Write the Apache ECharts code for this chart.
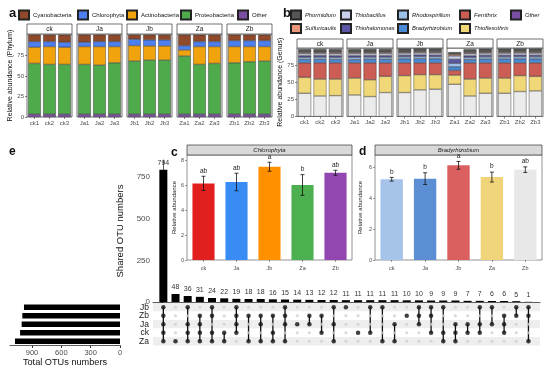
<!DOCTYPE html>
<html><head><meta charset="utf-8">
<script src="https://cdn.jsdelivr.net/npm/echarts@6/dist/echarts.min.js"></script>
<style>html,body{margin:0;padding:0;background:#fff}#c{width:550px;height:371px}</style>
</head><body><div id="c"></div>
<script>
const FONT = '"Liberation Sans", Arial, Helvetica, sans-serif';
// ---------- shared categories ----------
const facetNames = ['ck','Ja','Jb','Za','Zb'];
const sampleNames = ['ck1','ck2','ck3','Ja1','Ja2','Ja3','Jb1','Jb2','Jb3','Za1','Za2','Za3','Zb1','Zb2','Zb3'];
// ---------- panel a : phylum (%) ----------
const phylumNames = ['Cyanobacteria','Chlorophyta','Actinobacteria','Proteobacteria','Other'];
const cyanobacteria  = [8.2,8.2,9.0, 9.0,8.2,8.2, 5.3,6.1,6.1, 13.1,8.2,8.2, 7.0,7.0,7.0];
const chlorophyta    = [6.8,6.1,6.1, 5.3,6.1,6.1, 7.8,7.4,7.4, 5.3,6.1,6.1, 7.3,7.3,7.3];
const actinobacteria = [19.8,21.7,20.9, 21.7,22.5,19.7, 18.8,17.2,17.2, 7.4,21.7,20.5, 19.7,18.4,17.6];
const proteobacteria = [61.7,60.5,60.5, 60.5,59.7,62.5, 64.6,65.8,65.8, 70.7,60.5,61.7, 62.5,63.8,64.6];
const phylumOther    = [3.5,3.5,3.5, 3.5,3.5,3.5, 3.5,3.5,3.5, 3.5,3.5,3.5, 3.5,3.5,3.5];
const phylumTicks = [0,25,50,75];
// ---------- panel b : genus (%) ----------
const genusNames = ['Phormidium','Sulfuricaulis','Thiobacillus','Thiohalomonas','Rhodospirillum','Bradyrhizobium','Ferrithrix','Thioflexothrix','Other'];
const phormidium     = [5.0,4.8,5.1, 5.0,4.9,5.0, 5.1,4.9,5.0, 3.5,5.0,4.9, 5.0,4.9,5.0];
const sulfuricaulis  = [1.5,1.5,1.6, 1.5,1.5,1.5, 1.4,1.5,1.5, 2.0,1.5,1.5, 1.5,1.5,1.5];
const thiobacillus   = [3.0,3.0,2.9, 3.0,3.0,3.1, 3.0,3.0,2.9, 5.0,3.0,3.0, 3.0,3.0,3.0];
const thiohalomonas  = [2.5,2.6,2.5, 2.5,2.5,2.4, 2.5,2.5,2.5, 6.0,2.5,2.5, 2.5,2.5,2.5];
const rhodospirillum = [3.0,3.1,3.0, 3.2,3.0,3.1, 2.9,3.0,3.0, 5.0,3.0,3.1, 3.0,3.1,3.0];
const bradyrhizobium = [5.2,5.3,5.1, 5.0,5.5,5.3, 6.0,6.3,6.1, 5.4,5.0,5.7, 5.8,6.0,5.9];
const ferrithrix     = [21.4,23.9,23.9, 22.4,24.9,19.9, 18.9,17.4,17.4, 7.0,23.9,22.4, 22.4,18.9,19.9];
const thioflexothrix = [23.4,24.9,24.4, 24.9,24.8,23.9, 24.9,22.4,21.4, 13.5,24.9,22.4, 22.4,23.4,21.4];
const genusOther     = [34.3,30.3,30.8, 31.8,29.4,35.3, 35.3,39.3,40.3, 47.5,30.3,34.3, 34.3,36.8,37.8];
const genusTicks = [0,25,50,75];
// ---------- panel c : Chlorophyta ----------
const chloroMean = [6.13,6.24,7.46,6.00,6.98];
const chloroSd   = [0.57,0.70,0.36,0.83,0.20];
const chloroSig  = ['ab','ab','a','b','ab'];
const chloroTicks = [0,2,4,6,8];
// ---------- panel d : Bradyrhizobium ----------
const bradyMean = [5.23,5.27,6.13,5.37,5.85];
const bradySd   = [0.12,0.38,0.25,0.32,0.18];
const bradySig  = ['b','b','a','b','ab'];
const bradyTicks = [0,2,4,6];
// ---------- panel e : UpSet ----------
const setNames = ['Jb','Zb','Ja','ck','Za'];
const setTotals = [982,999,1006,1022,1074];
const setTicks = [0,300,600,900];
const interCounts = [794,48,36,31,24,22,19,18,18,16,15,14,13,12,12,11,11,11,11,11,10,10,9,9,9,7,7,6,6,5,1];
const interSets = [
 ['Jb','Zb','Ja','ck','Za'],['Za'],['Jb','Ja','ck','Za'],['Zb','Ja','ck','Za'],['Jb','Zb','ck','Za'],
 ['ck','Za'],['Jb','Zb','Ja','ck'],['Zb','Za'],['Zb','Ja','Za'],['Zb','ck','Za'],
 ['Jb','Zb','Ja','Za'],['Ja'],['Zb','Ja'],['Zb','ck'],['Jb','Ja','Za'],
 ['Jb'],['ck'],['Jb','ck'],['Jb','Za'],['Ja','Za'],
 ['Zb'],['Jb','Zb','Ja'],['Jb','Zb','ck'],['Jb','ck','Za'],['Ja','ck','Za'],
 ['Ja','ck'],['Jb','Ja','ck'],['Jb','Ja'],['Zb','Ja','ck'],['Jb','Zb'],['Jb','Zb','Za']
];
const interTicks = [0,250,500,750];

// ---------- colours ----------
const phylumColors = {Cyanobacteria:'#8f4a2c',Chlorophyta:'#4d7ff0',Actinobacteria:'#f0a30c',Proteobacteria:'#4eaa4b',Other:'#7a4fa3'};
const genusColors = {Phormidium:'#555555',Sulfuricaulis:'#e8967c',Thiobacillus:'#c8cfea',Thiohalomonas:'#5b57a6',Rhodospirillum:'#9dc0ea',Bradyrhizobium:'#4a89d4',Ferrithrix:'#cc5d55',Thioflexothrix:'#f0d878',Other:'#ebebeb'};
const chloroColors = ['#e21f1f','#3a8cf5','#ff9000','#4caf50','#9146b0'];
const bradyColors = ['#a6c4ea','#5b8ed2','#d9605f','#efd47a','#e8e8e8'];

const phylumData = {Cyanobacteria:cyanobacteria,Chlorophyta:chlorophyta,Actinobacteria:actinobacteria,Proteobacteria:proteobacteria,Other:phylumOther};
const genusData = {Phormidium:phormidium,Sulfuricaulis:sulfuricaulis,Thiobacillus:thiobacillus,Thiohalomonas:thiohalomonas,Rhodospirillum:rhodospirillum,Bradyrhizobium:bradyrhizobium,Ferrithrix:ferrithrix,Thioflexothrix:thioflexothrix,Other:genusOther};

const grids=[], xAxes=[], yAxes=[], series=[], graphics=[], legends=[];
const gray='#4d4d4d';
function addGrid(g){ grids.push(Object.assign({outerBoundsMode:'none',containLabel:false},g)); return grids.length-1; }
function txt(text,x,y,o){ graphics.push({type:'text',x:x,y:y,silent:true,style:Object.assign({text:text,fontFamily:FONT,fill:'#111',align:'left',verticalAlign:'middle'},o||{})}); }
function strip(x,y,w,h,label,fill,italic,fs){
  graphics.push({type:'rect',silent:true,shape:{x:x,y:y,width:w,height:h},style:{fill:fill,stroke:'#333',lineWidth:0.7}});
  txt(label,x+w/2,y+h/2+0.5,{align:'center',fontSize:fs,fontStyle:italic?'italic':'normal',fill:'#1a1a1a'});
}

// ---------- stacked facet panels ----------
function facetPanel(lefts,width,top,height,stripTop,stripH,names,dataMap,colors,ticks,yName,nameGap){
  lefts.forEach(function(left,f){
    const gi = addGrid({left:left,top:top,width:width,height:height,show:true,borderColor:'#333',borderWidth:0.7,backgroundColor:'#fff'});
    xAxes.push({type:'category',gridIndex:gi,data:sampleNames.slice(3*f,3*f+3),
      axisLine:{show:false},axisTick:{show:true,length:2,alignWithLabel:true,lineStyle:{color:'#333',width:0.6}},
      axisLabel:{fontSize:6,color:gray,margin:3,fontFamily:FONT,interval:0}});
    yAxes.push({type:'value',gridIndex:gi,min:0,max:101,splitLine:{show:false},axisLine:{show:false},
      axisTick:{show:f===0,length:2,customValues:ticks,lineStyle:{color:'#333',width:0.6}},
      axisLabel:{show:f===0,customValues:ticks,fontSize:6,color:gray,margin:3,fontFamily:FONT},
      name:f===0?yName:'',nameLocation:'middle',nameGap:nameGap,nameTextStyle:{fontSize:7,color:'#111',fontFamily:FONT}});
    strip(left,stripTop,width,stripH,facetNames[f],'#fff',false,6.5);
    names.slice().reverse().forEach(function(n){
      series.push({type:'bar',name:n,xAxisIndex:xAxes.length-1,yAxisIndex:yAxes.length-1,stack:'s'+gi,barWidth:'84%',
        data:dataMap[n].slice(3*f,3*f+3),itemStyle:{color:colors[n],borderColor:'#222',borderWidth:0.4},emphasis:{disabled:true}});
    });
  });
}
facetPanel([27,77,127,177,227],45,34,83,24,10,phylumNames,phylumData,phylumColors,phylumTicks,'Relative abundance (Phylum)',13.5);
facetPanel([297,347,397,447,497],46,48,68.5,39,9,genusNames,genusData,genusColors,genusTicks,'Relative abundance (Genus)',10.5);

// legends
function legendItem(name,left,top,italic,fs){
  legends.push({data:[name],left:left,top:top,padding:0,itemWidth:10,itemHeight:9,icon:'rect',selectedMode:false,
    textStyle:{fontSize:fs,color:'#111',fontFamily:FONT,fontStyle:italic?'italic':'normal',padding:[0,0,0,-1]}});
}
[18,77,126,180,237].forEach(function(x,i){ legendItem(phylumNames[i],x,9.5,false,6); });
const gPos = [[290,9.5],[290,23],[340,9.5],[340,23],[397,9.5],[397,23],[459,9.5],[459,23],[510,9.5]];
genusNames.forEach(function(n,i){ legendItem(n,gPos[i][0],gPos[i][1],true,5.8); });

// ---------- bar + error panels ----------
function errRender(letters){
  return function(params, api){
    const i = api.value(0);
    const t = api.coord([i, api.value(2)]);
    const b = api.coord([i, api.value(1)]);
    const w = 2, st = {stroke:'#111',lineWidth:0.8};
    return {type:'group',children:[
      {type:'line',shape:{x1:t[0],y1:t[1],x2:b[0],y2:b[1]},style:st},
      {type:'line',shape:{x1:t[0]-w,y1:t[1],x2:t[0]+w,y2:t[1]},style:st},
      {type:'line',shape:{x1:b[0]-w,y1:b[1],x2:b[0]+w,y2:b[1]},style:st},
      {type:'text',style:{text:letters[params.dataIndex],x:t[0],y:t[1]-2,align:'center',verticalAlign:'bottom',fontSize:6.5,fill:'#222',fontFamily:FONT}}
    ]};
  };
}
function barPanel(left,width,max,means,sds,sig,colors,ticks,title,nameGap){
  const gi = addGrid({left:left,top:155,width:width,height:105,show:true,borderColor:'#666',borderWidth:0.7,backgroundColor:'#fff'});
  xAxes.push({type:'category',gridIndex:gi,data:facetNames,axisLine:{show:false},
    axisTick:{show:true,length:2,alignWithLabel:true,lineStyle:{color:'#555',width:0.6}},
    axisLabel:{fontSize:5.5,color:gray,margin:5,fontFamily:FONT,interval:0}});
  yAxes.push({type:'value',gridIndex:gi,min:0,max:max,splitLine:{show:false},axisLine:{show:false},
    axisTick:{show:true,length:2,customValues:ticks,lineStyle:{color:'#555',width:0.6}},
    axisLabel:{customValues:ticks,fontSize:5.5,color:gray,margin:3,fontFamily:FONT},
    name:'Relative abundance',nameLocation:'middle',nameGap:nameGap,nameTextStyle:{fontSize:6,color:'#222',fontFamily:FONT}});
  const xi = xAxes.length-1, yi = yAxes.length-1;
  series.push({type:'bar',xAxisIndex:xi,yAxisIndex:yi,barWidth:'67%',
    data:means.map(function(v,i){return {value:v,itemStyle:{color:colors[i]}};}),emphasis:{disabled:true}});
  series.push({type:'custom',xAxisIndex:xi,yAxisIndex:yi,renderItem:errRender(sig),encode:{x:0,y:[1,2]},z:5,
    data:means.map(function(v,i){return [i, v-sds[i], v+sds[i]];})});
  strip(left,145,width,10,title,'#d9d9d9',true,6);
}
barPanel(187,165,8.4,chloroMean,chloroSd,chloroSig,chloroColors,chloroTicks,'Chlorophyta',9);
barPanel(375,167,6.8,bradyMean,bradySd,bradySig,bradyColors,bradyTicks,'Bradyrhizobium',12);

// ---------- UpSet ----------
const XMIN=-0.85, XMAX=30.95;
let gi = addGrid({left:153,top:160,width:387,height:142});
xAxes.push({type:'value',gridIndex:gi,min:XMIN,max:XMAX,axisLine:{show:true,lineStyle:{color:'#333',width:0.8}},axisTick:{show:false},axisLabel:{show:false},splitLine:{show:false}});
yAxes.push({type:'value',gridIndex:gi,min:0,max:852,splitLine:{show:false},axisLine:{show:true,lineStyle:{color:'#333',width:0.8}},
  axisTick:{show:true,length:3,customValues:interTicks,lineStyle:{color:'#333'}},
  axisLabel:{customValues:interTicks,fontSize:8,color:gray,margin:3,fontFamily:FONT},
  name:'Shared OTU numbers',nameLocation:'middle',nameGap:26,nameTextStyle:{fontSize:9.5,color:'#111',fontFamily:FONT}});
series.push({type:'bar',xAxisIndex:xAxes.length-1,yAxisIndex:yAxes.length-1,barWidth:8,
  data:interCounts.map(function(v,i){return [i,v];}),itemStyle:{color:'#000'},
  label:{show:true,position:'top',distance:3,fontSize:7,color:'#333',fontFamily:FONT,formatter:function(p){return p.value[1];}},emphasis:{disabled:true}});

// matrix
gi = addGrid({left:153,top:303,width:387,height:42.5});
xAxes.push({type:'value',gridIndex:gi,min:XMIN,max:XMAX,show:false,splitLine:{show:false}});
yAxes.push({type:'category',gridIndex:gi,data:setNames,inverse:true,axisLine:{show:false},axisTick:{show:false},
  axisLabel:{fontSize:8.5,color:'#1a1a1a',margin:4,fontFamily:FONT,interval:0},
  splitArea:{show:true,interval:0,areaStyle:{color:['#eeeeee','#ffffff']}},splitLine:{show:false}});
const mx = xAxes.length-1, my = yAxes.length-1;
const absentPts=[], presentPts=[], linkData=[];
interSets.forEach(function(sets,i){
  const rows = sets.map(function(s){return setNames.indexOf(s);});
  setNames.forEach(function(s,r){ if(rows.indexOf(r)<0) absentPts.push([i,r]); });
  rows.forEach(function(r){ presentPts.push([i,r]); });
  if(rows.length>1) linkData.push([i, Math.min.apply(null,rows), Math.max.apply(null,rows)]);
});
series.push({type:'scatter',xAxisIndex:mx,yAxisIndex:my,data:absentPts,symbolSize:3.2,itemStyle:{color:'#d0d0d0'},silent:true});
series.push({type:'custom',xAxisIndex:mx,yAxisIndex:my,data:linkData,encode:{x:0,y:[1,2]},silent:true,
  renderItem:function(params,api){
    const a = api.coord([api.value(0),api.value(1)]), b = api.coord([api.value(0),api.value(2)]);
    return {type:'line',shape:{x1:a[0],y1:a[1],x2:b[0],y2:b[1]},style:{stroke:'#111',lineWidth:1.3}};
  }});
series.push({type:'scatter',xAxisIndex:mx,yAxisIndex:my,data:presentPts,symbolSize:4.5,itemStyle:{color:'#111'},silent:true,z:4});

// set size bars
gi = addGrid({left:10,top:303,width:110,height:42.5});
xAxes.push({type:'value',gridIndex:gi,min:0,max:1125,inverse:true,splitLine:{show:false},
  axisLine:{show:true,onZero:false,lineStyle:{color:'#333',width:0.8}},
  axisTick:{show:true,length:2.5,customValues:setTicks,lineStyle:{color:'#333'}},
  axisLabel:{customValues:setTicks,fontSize:7.5,color:gray,margin:3,fontFamily:FONT},
  name:'Total OTUs numbers',nameLocation:'middle',nameGap:12,nameTextStyle:{fontSize:9.2,color:'#111',fontFamily:FONT}});
yAxes.push({type:'category',gridIndex:gi,data:setNames,inverse:true,show:false});
series.push({type:'bar',xAxisIndex:xAxes.length-1,yAxisIndex:yAxes.length-1,barWidth:5.5,data:setTotals,itemStyle:{color:'#000'},emphasis:{disabled:true}});

// panel letters
txt('a',9,13,{fontSize:13,fontWeight:'bold'});
txt('b',283,13,{fontSize:13,fontWeight:'bold'});
txt('e',9,152,{fontSize:12,fontWeight:'bold'});
txt('c',171,153,{fontSize:12,fontWeight:'bold'});
txt('d',359,152,{fontSize:12,fontWeight:'bold'});

const chart = echarts.init(document.getElementById('c'),null,{renderer:'canvas',width:550,height:371});
chart.setOption({
  animation:false,backgroundColor:'#fff',textStyle:{fontFamily:FONT},
  grid:grids,xAxis:xAxes,yAxis:yAxes,series:series,legend:legends,graphic:graphics
});
</script></body></html>
